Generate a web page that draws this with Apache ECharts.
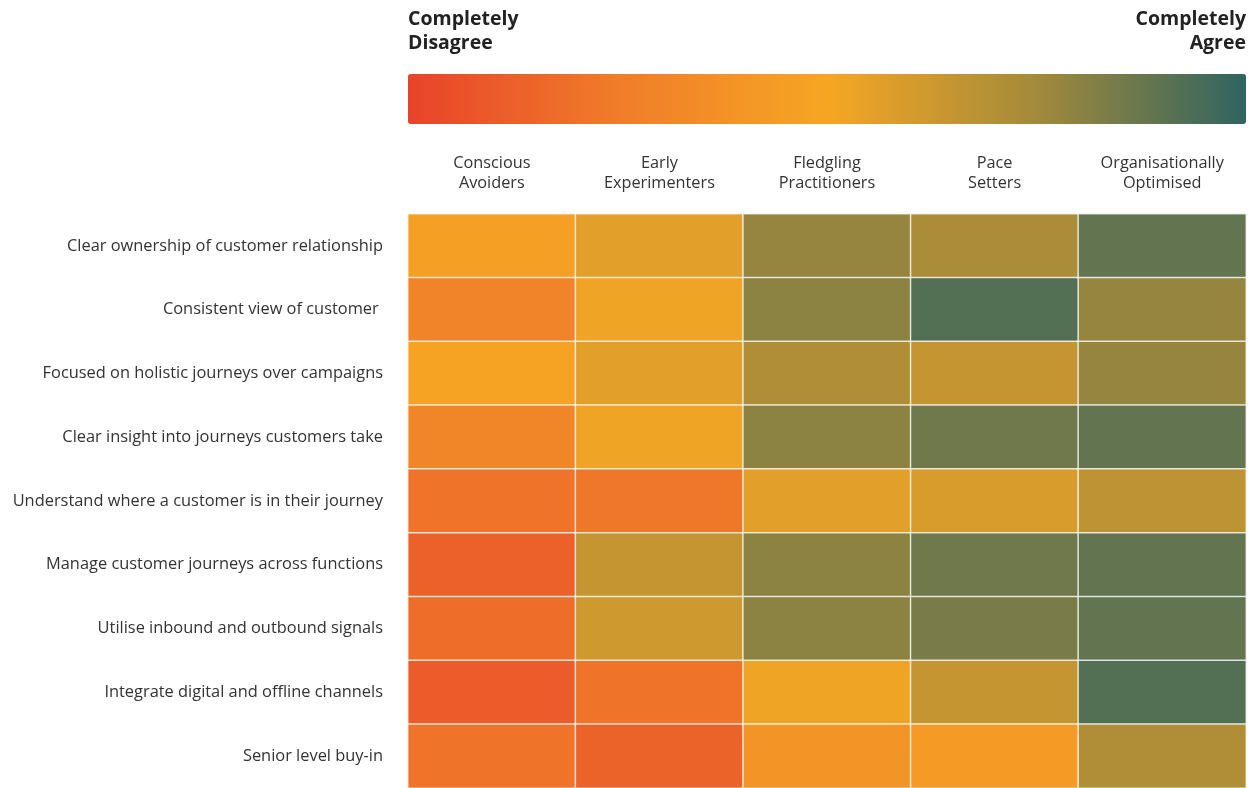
<!DOCTYPE html>
<html>
<head>
<meta charset="utf-8">
<script src="https://cdn.jsdelivr.net/npm/echarts@6/dist/echarts.min.js"></script>
<style>
html,body{margin:0;padding:0;background:#fff;}
#chart{width:1258px;height:788px;}
</style>
</head>
<body>
<div id="chart"></div>
<script>
// Row categories (top to bottom)
var capabilities = [
  'Clear ownership of customer relationship',
  'Consistent view of customer ',
  'Focused on holistic journeys over campaigns',
  'Clear insight into journeys customers take',
  'Understand where a customer is in their journey',
  'Manage customer journeys across functions',
  'Utilise inbound and outbound signals',
  'Integrate digital and offline channels',
  'Senior level buy-in'
];
// Column categories
var stages = ['Conscious\nAvoiders', 'Early\nExperimenters', 'Fledgling\nPractitioners', 'Pace\nSetters', 'Organisationally\nOptimised'];

// Agreement score (0 = completely disagree, 100 = completely agree), one array per stage
var consciousAvoiders      = [46, 29, 48, 31, 21, 13, 19, 11, 21];
var earlyExperimenters     = [56, 52, 56, 52, 23, 65, 62, 21, 14];
var fledglingPractitioners = [78, 80, 71, 80, 56, 80, 80, 52, 39];
var paceSetters            = [73, 92, 65, 86, 59, 86, 84, 65, 43];
var organisationallyOpt    = [89, 78, 78, 89, 67, 89, 89, 92, 71];

var scaleLabels = ['Completely\nDisagree', 'Completely\nAgree'];
var scaleColors = ['#e8432a', '#f07c29', '#f6a623', '#a38a3b', '#2f6460'];

var columns = [consciousAvoiders, earlyExperimenters, fledglingPractitioners, paceSetters, organisationallyOpt];
var data = [];
columns.forEach(function (col, x) {
  col.forEach(function (v, y) { data.push([x, y, v]); });
});

var chart = echarts.init(document.getElementById('chart'));
var font = 'Open Sans';
var headFont = 'bold 19.5px "Open Sans"';
chart.setOption({
  animation: false,
  graphic: [
    {
      type: 'text', x: 408, y: 7,
      style: { text: scaleLabels[0], font: headFont, fill: '#222', lineHeight: 24, align: 'left', verticalAlign: 'top' }
    },
    {
      type: 'text', x: 1246, y: 7,
      style: { text: scaleLabels[1], font: headFont, fill: '#222', lineHeight: 24, align: 'right', verticalAlign: 'top' }
    }
  ],
  grid: { left: 408, right: 12, top: 214, height: 576, containLabel: false },
  xAxis: {
    type: 'category', position: 'top', data: stages,
    axisLine: { show: false }, axisTick: { show: false }, splitLine: { show: false },
    axisLabel: { interval: 0, margin: 21, fontFamily: font, fontSize: 16.3, color: '#333', lineHeight: 20 }
  },
  yAxis: {
    type: 'category', inverse: true, data: capabilities,
    axisLine: { show: false }, axisTick: { show: false }, splitLine: { show: false },
    axisLabel: { interval: 0, margin: 25, fontFamily: font, fontSize: 16.4, color: '#333' }
  },
  visualMap: {
    type: 'continuous', min: 0, max: 100, orient: 'horizontal',
    left: 408, top: 74, itemWidth: 50, itemHeight: 838, padding: 0,
    calculable: false, realtime: false, hoverLink: false,
    seriesIndex: 0, dimension: 2,
    inRange: { color: scaleColors },
    textStyle: { color: 'transparent' }
  },
  series: [{
    type: 'heatmap', data: data,
    itemStyle: { borderColor: 'rgba(255,255,255,0.75)', borderWidth: 1.5 },
    emphasis: { disabled: true },
    label: { show: false }
  }]
});
</script>
</body>
</html>
